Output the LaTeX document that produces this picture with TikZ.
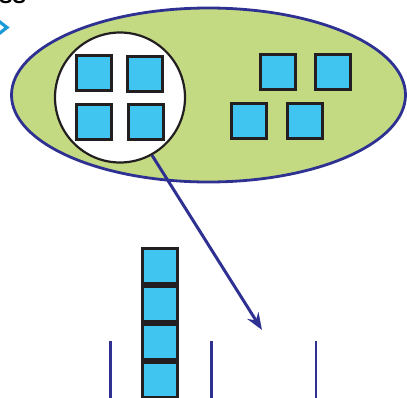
\documentclass[tikz,border=0pt]{standalone}
\usepackage{fontspec}
\newfontfamily\headfont{Liberation Sans}
\usetikzlibrary{arrows.meta,shapes.geometric}
\definecolor{leaf}{HTML}{C3DA82}
\definecolor{navy}{HTML}{2E3192}
\definecolor{tile}{HTML}{40C4F0}
\definecolor{ink}{HTML}{231F20}
\definecolor{chev}{HTML}{1A9AD6}
\tikzset{
  tilebox/.style={draw=ink,fill=tile,line width=3pt,minimum size=35pt,inner sep=0pt,rectangle},
  guide/.style={draw=navy,line width=2.4pt},
}
\begin{document}
\begin{tikzpicture}[x=1pt,y=-1pt]
\useasboundingbox (0,0) rectangle (407,397);
% cropped heading fragment
\node[anchor=base west,inner sep=0pt,font=\headfont\bfseries\fontsize{20}{22}\selectfont] (head) at (-1,3.8) {SS};
\draw[chev,line width=3.2pt] (-4,19) -- (7,27.5) -- (-4,36);
% ellipse
\node[ellipse,draw=navy,fill=leaf,line width=2.8pt,minimum width=394pt,minimum height=174pt,inner sep=0pt] (set) at (208.5,95) {};
% magnifier circle
\node[circle,draw=ink,fill=white,line width=2.2pt,minimum size=130pt,inner sep=0pt] (lens) at (120,97.5) {};
% squares in circle
\node[tilebox] (a1) at (93.5,72.7) {};
\node[tilebox] (a2) at (145,73.7) {};
\node[tilebox] (a3) at (93.5,121.5) {};
\node[tilebox] (a4) at (146.3,121.8) {};
% squares outside circle
\node[tilebox] (b1) at (278.3,72.2) {};
\node[tilebox] (b2) at (332.5,72.2) {};
\node[tilebox] (b3) at (249.2,120.7) {};
\node[tilebox] (b4) at (304.7,120.7) {};
% stack
\node[tilebox] (s1) at (159.5,266.2) {};
\node[tilebox] (s2) at (159.5,304) {};
\node[tilebox] (s3) at (159.5,342) {};
\node[tilebox] (s4) at (159.5,380) {};
% arrow
\coordinate (tip) at (262,330);
\draw[navy,line width=3pt,-{Stealth[length=17pt,width=13pt]}] (lens.-61) -- (tip);
% guide lines
\coordinate (g1t) at (110.3,341); \coordinate (g1b) at (110.3,400);
\coordinate (g2t) at (211.3,341); \coordinate (g2b) at (211.3,400);
\coordinate (g3t) at (316,341); \coordinate (g3b) at (316,400);
\draw[guide] (g1t) -- (g1b);
\draw[guide] (g2t) -- (g2b);
\draw[guide] (g3t) -- (g3b);
\end{tikzpicture}
\end{document}
